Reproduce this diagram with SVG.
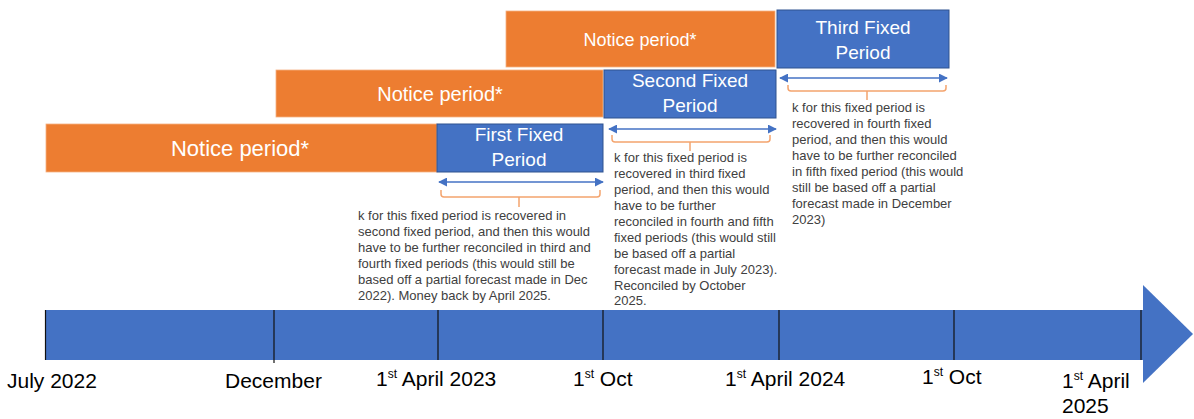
<svg xmlns="http://www.w3.org/2000/svg" width="1194" height="419" viewBox="0 0 1194 419">
<style>
.orange{fill:#ED7D31;stroke:#F4B183;stroke-width:0.8}
.blue{fill:#4472C4;stroke:#2F528F;stroke-width:1}
.box-t{font-family:"Liberation Sans",Arial,sans-serif;fill:#FFFFFF;text-anchor:middle}
.note{font-family:"Liberation Sans",Arial,sans-serif;font-size:13px;fill:#404040}
.lbl{font-family:"Liberation Sans",Arial,sans-serif;font-size:21px;fill:#000000}
.sup{font-size:12px}
.span{stroke:#4472C4;stroke-width:1.5;fill:none;marker-start:url(#ah);marker-end:url(#ah)}
.brace{stroke:#F4A46E;stroke-width:1.5;fill:none}
.tick{stroke:#111111;stroke-width:1.2}
</style>
<defs>
<marker id="ah" viewBox="0 0 10 10" refX="9" refY="5" markerWidth="6" markerHeight="6" orient="auto-start-reverse" markerUnits="strokeWidth">
<path d="M0,0 L10,5 L0,10 z" fill="#4472C4"/>
</marker>
</defs>
<rect width="1194" height="419" fill="#FFFFFF"/>

<g id="timeline">
<rect x="45" y="310" width="1098" height="50" fill="#4472C4"/>
<polygon points="1143,285 1193,334 1143,383" fill="#4472C4"/>
<line class="tick" x1="45.5" y1="310" x2="45.5" y2="360"/>
<line class="tick" x1="274" y1="310" x2="274" y2="363"/>
<line class="tick" x1="438" y1="310" x2="438" y2="360"/>
<line class="tick" x1="603" y1="310" x2="603" y2="360"/>
<line class="tick" x1="779" y1="310" x2="779" y2="360"/>
<line class="tick" x1="954" y1="310" x2="954" y2="360"/>
<line class="tick" x1="1141" y1="310" x2="1141" y2="360"/>
</g>

<g id="timeline-labels">
<text class="lbl" x="7" y="388">July 2022</text>
<text class="lbl" x="225" y="388">December</text>
<text class="lbl" x="376" y="386">1<tspan class="sup" dy="-8">st</tspan><tspan dy="8"> April 2023</tspan></text>
<text class="lbl" x="573" y="386">1<tspan class="sup" dy="-8">st</tspan><tspan dy="8"> Oct</tspan></text>
<text class="lbl" x="725" y="386">1<tspan class="sup" dy="-8">st</tspan><tspan dy="8"> April 2024</tspan></text>
<text class="lbl" x="922" y="384">1<tspan class="sup" dy="-8">st</tspan><tspan dy="8"> Oct</tspan></text>
<text class="lbl" x="1062" y="388">1<tspan class="sup" dy="-8">st</tspan><tspan dy="8"> April</tspan></text>
<text class="lbl" x="1062" y="413">2025</text>
</g>

<g id="notice1">
<rect class="orange" x="46" y="124" width="391" height="48"/>
<text class="box-t" x="240" y="156" font-size="22">Notice period*</text>
</g>
<g id="notice2">
<rect class="orange" x="276" y="70" width="327" height="47"/>
<text class="box-t" x="440" y="101" font-size="20">Notice period*</text>
</g>
<g id="notice3">
<rect class="orange" x="506" y="11" width="269" height="56"/>
<text class="box-t" x="640" y="46" font-size="18">Notice period*</text>
</g>

<g id="fixed1">
<rect class="blue" x="437" y="124" width="166" height="48"/>
<text class="box-t" x="519" y="141" font-size="19">First Fixed</text>
<text class="box-t" x="519" y="166" font-size="19">Period</text>
</g>
<g id="fixed2">
<rect class="blue" x="604" y="70" width="172" height="48"/>
<text class="box-t" x="690" y="87" font-size="19">Second Fixed</text>
<text class="box-t" x="690" y="112" font-size="19">Period</text>
</g>
<g id="fixed3">
<rect class="blue" x="777" y="10" width="172" height="58"/>
<text class="box-t" x="863" y="34" font-size="19">Third Fixed</text>
<text class="box-t" x="863" y="59" font-size="19">Period</text>
</g>

<g id="connectors">
<line class="span" x1="439" y1="182" x2="603" y2="182"/>
<line class="span" x1="609" y1="129" x2="776" y2="129"/>
<line class="span" x1="780" y1="78" x2="947" y2="78"/>
<path class="brace" d="M441,190 V194 Q441,197 444,197 H597 Q600,197 600,194 V190 M519,197 V207"/>
<path class="brace" d="M612,135 V139 Q612,142 615,142 H767 Q770,142 770,139 V135 M690,142 V151"/>
<path class="brace" d="M788,85 V88 Q788,91 791,91 H943 Q946,91 946,88 V85 M867,91 V100"/>
</g>

<g id="note1">
<text class="note" x="358" y="220">k for this fixed period is recovered in</text>
<text class="note" x="358" y="236">second fixed period, and then this would</text>
<text class="note" x="358" y="252">have to be further reconciled in third and</text>
<text class="note" x="358" y="268">fourth fixed periods (this would still be</text>
<text class="note" x="358" y="284">based off a partial forecast made in Dec</text>
<text class="note" x="358" y="300">2022). Money back by April 2025.</text>
</g>
<g id="note2">
<text class="note" x="614" y="162">k for this fixed period is</text>
<text class="note" x="614" y="178">recovered in third fixed</text>
<text class="note" x="614" y="194">period, and then this would</text>
<text class="note" x="614" y="210">have to be further</text>
<text class="note" x="614" y="226">reconciled in fourth and fifth</text>
<text class="note" x="614" y="242">fixed periods (this would still</text>
<text class="note" x="614" y="258">be based off a partial</text>
<text class="note" x="614" y="274">forecast made in July 2023).</text>
<text class="note" x="614" y="290">Reconciled by October</text>
<text class="note" x="614" y="305">2025.</text>
</g>
<g id="note3">
<text class="note" x="792" y="112">k for this fixed period is</text>
<text class="note" x="792" y="128">recovered in fourth fixed</text>
<text class="note" x="792" y="144">period, and then this would</text>
<text class="note" x="792" y="160">have to be further reconciled</text>
<text class="note" x="792" y="176">in fifth fixed period (this would</text>
<text class="note" x="792" y="192">still be based off a partial</text>
<text class="note" x="792" y="208">forecast made in December</text>
<text class="note" x="792" y="224">2023)</text>
</g>
</svg>
